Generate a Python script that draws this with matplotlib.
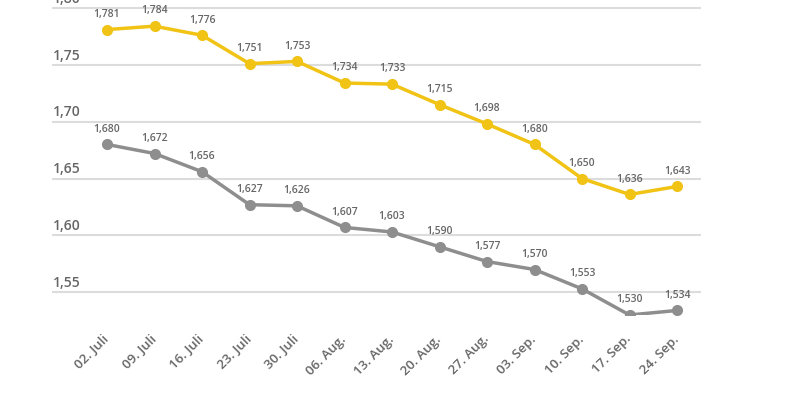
import numpy as np
import matplotlib.pyplot as plt

plt.rcParams['font.family'] = ['Open Sans', 'DejaVu Sans']

dates = ['02. Juli', '09. Juli', '16. Juli', '23. Juli', '30. Juli', '06. Aug.', '13. Aug.',
         '20. Aug.', '27. Aug.', '03. Sep.', '10. Sep.', '17. Sep.', '24. Sep.']
yellow_vals = [1.781, 1.784, 1.776, 1.751, 1.753, 1.734, 1.733, 1.715, 1.698, 1.680, 1.650, 1.636, 1.643]
gray_vals = [1.680, 1.672, 1.656, 1.627, 1.626, 1.607, 1.603, 1.590, 1.577, 1.570, 1.553, 1.530, 1.534]
yticks = [1.55, 1.60, 1.65, 1.70, 1.75, 1.80]

W, H = 788, 394
fig = plt.figure(figsize=(W / 100, H / 100), dpi=100)
ax = fig.add_axes([52 / W, (H - 315) / H, (701 - 52) / W, 315 / H])

x = np.arange(len(dates))
c_yellow = '#f0c315'
c_gray = '#8e8e8e'
c_text = '#666666'

for yt in yticks:
    ax.axhline(yt, color='#dcdcdc', lw=1.5, zorder=1)
    ax.text(0.002, yt + 0.002, f'{yt:.2f}'.replace('.', ','), transform=ax.get_yaxis_transform(),
            ha='left', va='bottom', fontsize=10, color=c_text, fontweight='semibold')

for vals, col in [(yellow_vals, c_yellow), (gray_vals, c_gray)]:
    ax.plot(x, vals, color=col, lw=2.5, marker='o', ms=7, zorder=3)
    for xi, v in zip(x, vals):
        ax.annotate(f'{v:.3f}'.replace('.', ','), (xi, v), xytext=(0, 7), textcoords='offset points',
                    ha='center', va='bottom', fontsize=7.5, color=c_text, fontweight='semibold')

ax.set_xlim(-55 / 47.5, 12 + 24 / 47.5)
ax.set_ylim(1.53, 1.807)
ax.set_xticks(x)
ax.set_xticklabels(dates, rotation=45, ha='right', va='center', rotation_mode='anchor',
                   fontsize=9.5, color=c_text, fontweight='semibold')
ax.tick_params(axis='x', length=0, pad=16)
ax.set_yticks([])
for s in ax.spines.values():
    s.set_visible(False)

fig.savefig('out.png', dpi=100, facecolor='white')
